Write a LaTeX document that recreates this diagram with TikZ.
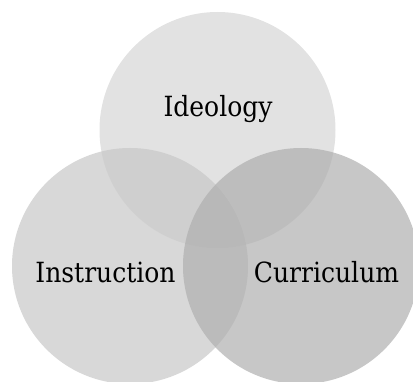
\documentclass[tikz,border=0pt]{standalone}
\usepackage{fontspec}
\setmainfont{DejaVu Serif Condensed}
\definecolor{ideofill}{RGB}{214,214,214}
\definecolor{instfill}{RGB}{199,199,199}
\definecolor{currfill}{RGB}{175,175,175}
\tikzset{
  venn/.style={circle, draw=none, minimum size=236pt, inner sep=0pt, fill opacity=0.7},
  label/.style={anchor=base, inner sep=0pt, font=\fontsize{27.8}{32}\selectfont, text=black}
}
\begin{document}
\begin{tikzpicture}[x=1pt,y=-1pt]
  \useasboundingbox (0,0) rectangle (413,382);
  % three overlapping translucent circles
  \node[venn, fill=ideofill] (ideology) at (217.5,130) {};
  \node[venn, fill=instfill] (instruction) at (130,266) {};
  \node[venn, fill=currfill] (curriculum) at (301,266) {};
  % circle captions
  \node[label] (ideotext) at (218,117) {Ideology};
  \node[label] (insttext) at (105.5,283) {Instruction};
  \node[label] (currtext) at (326.5,283) {Curriculum};
\end{tikzpicture}
\end{document}
